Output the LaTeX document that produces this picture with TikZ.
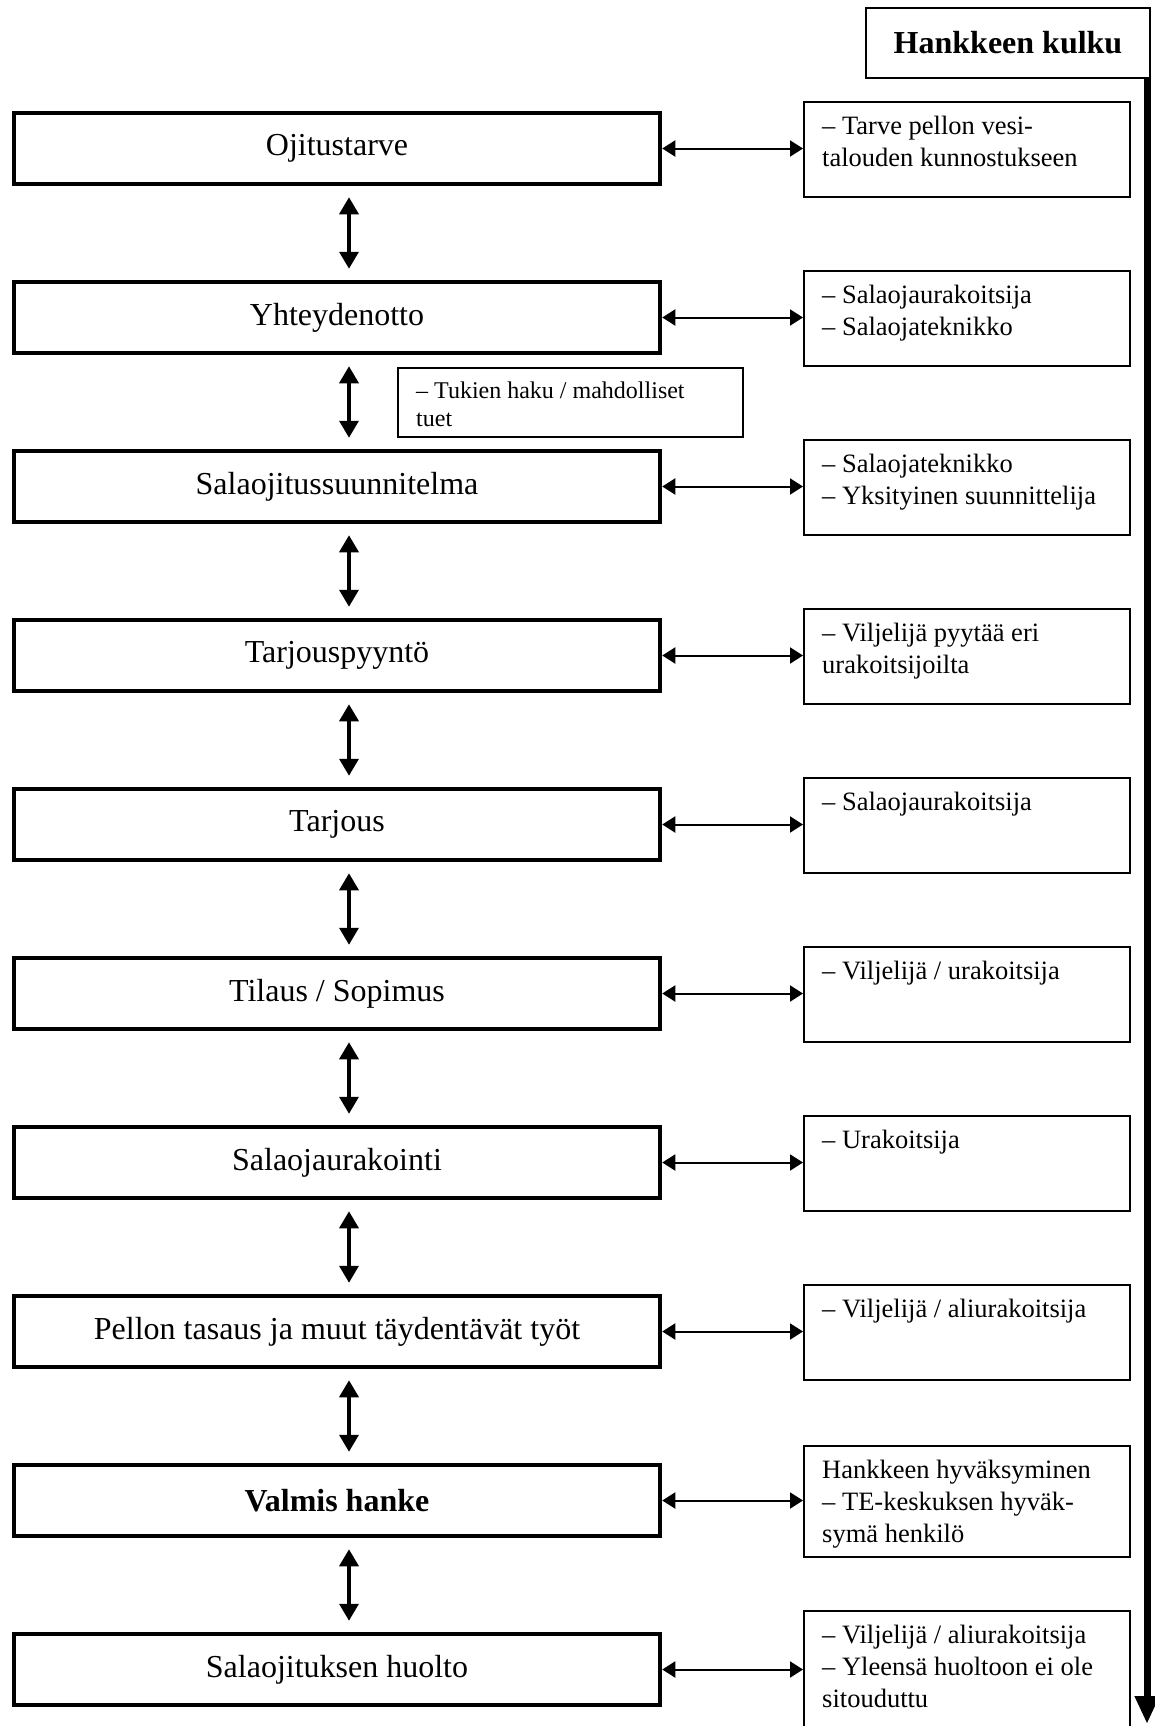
\documentclass[tikz,border=0pt]{standalone}
\usepackage{fontspec}
\setmainfont{Liberation Serif}
\usetikzlibrary{arrows.meta}
\tikzset{
  stage/.style={draw, line width=4.5pt, minimum width=646pt, minimum height=71pt, inner sep=0pt, font=\fontsize{32}{38}\selectfont},
  info/.style={draw, line width=2pt, minimum width=326pt, inner sep=0pt},
  itxt/.style={anchor=north west, inner sep=0pt, align=left, font=\fontsize{26.5}{32}\selectfont},
  head/.style={draw, line width=2pt, minimum width=284pt, minimum height=70pt, inner sep=0pt, font=\fontsize{32}{38}\selectfont\bfseries},
  ve/.style={line width=3.5pt, {Triangle[width=19pt,length=17pt]}-{Triangle[width=19pt,length=17pt]}, shorten >=11pt, shorten <=11pt},
  he/.style={line width=2pt, {Triangle[width=16pt,length=13pt]}-{Triangle[width=16pt,length=13pt]}},
  flow/.style={line width=7pt, -{Triangle[width=23pt,length=28pt]}},
}
% #1 index, #2 centre y, #3 info height, #4 stage, #5 info text
\newcommand{\stage}[5]{
  \node[stage] (s#1) at (337, #2) {#4};
  \node[info, minimum height=#3] (i#1) at (967, #2+1) {};
  \node[itxt] (t#1) at ([shift={(19,10.6)}]i#1.north west) {\strut #5};
  \draw[he] (s#1.east) -- (s#1.east -| i#1.west);
}

\begin{document}
\begin{tikzpicture}[x=1pt, y=-1pt]
  \useasboundingbox (0,0) rectangle (1155,1726);

  \stage{1}{148.5}{95pt}{Ojitustarve}{-- Tarve pellon vesi-\\talouden kunnostukseen}
  \stage{2}{317.5}{95pt}{Yhteydenotto}{-- Salaojaurakoitsija\\-- Salaojateknikko}
  \stage{3}{486.5}{95pt}{Salaojitussuunnitelma}{-- Salaojateknikko\\-- Yksityinen suunnittelija}
  \stage{4}{655.5}{95pt}{Tarjouspyyntö}{-- Viljelijä pyytää eri\\urakoitsijoilta}
  \stage{5}{824.5}{95pt}{Tarjous}{-- Salaojaurakoitsija}
  \stage{6}{993.5}{95pt}{Tilaus / Sopimus}{-- Viljelijä / urakoitsija}
  \stage{7}{1162.5}{95pt}{Salaojaurakointi}{-- Urakoitsija}
  \stage{8}{1331.5}{95pt}{Pellon tasaus ja muut täydentävät työt}{-- Viljelijä / aliurakoitsija}
  \stage{9}{1500.5}{111pt}{\bfseries Valmis hanke}{Hankkeen hyväksyminen\\-- TE-keskuksen hyväk-\\symä henkilö}
  \stage{10}{1669.5}{119pt}{Salaojituksen huolto}{-- Viljelijä / aliurakoitsija\\-- Yleensä huoltoon ei ole\\sitouduttu}

  % arrows between the stages
  \foreach \a [count=\b from 2] in {1,...,9}
    \draw[ve] ([xshift=12pt]s\a.south) -- ([xshift=12pt]s\b.north);

  % support box beside the second arrow
  \node[info, minimum width=345pt, minimum height=69pt, anchor=north west] (tk) at (397,367) {};
  \node[itxt, font=\fontsize{24}{28.6}\selectfont] at ([shift={(19,11)}]tk.north west) {\strut -- Tukien haku / mahdolliset\\tuet};

  % course of the project
  \node[head] (title) at (1008,43) {Hankkeen kulku};
  \coordinate (end) at (1147,1724);
  \draw[flow] (title.south east -| end) -- (end);
\end{tikzpicture}
\end{document}
